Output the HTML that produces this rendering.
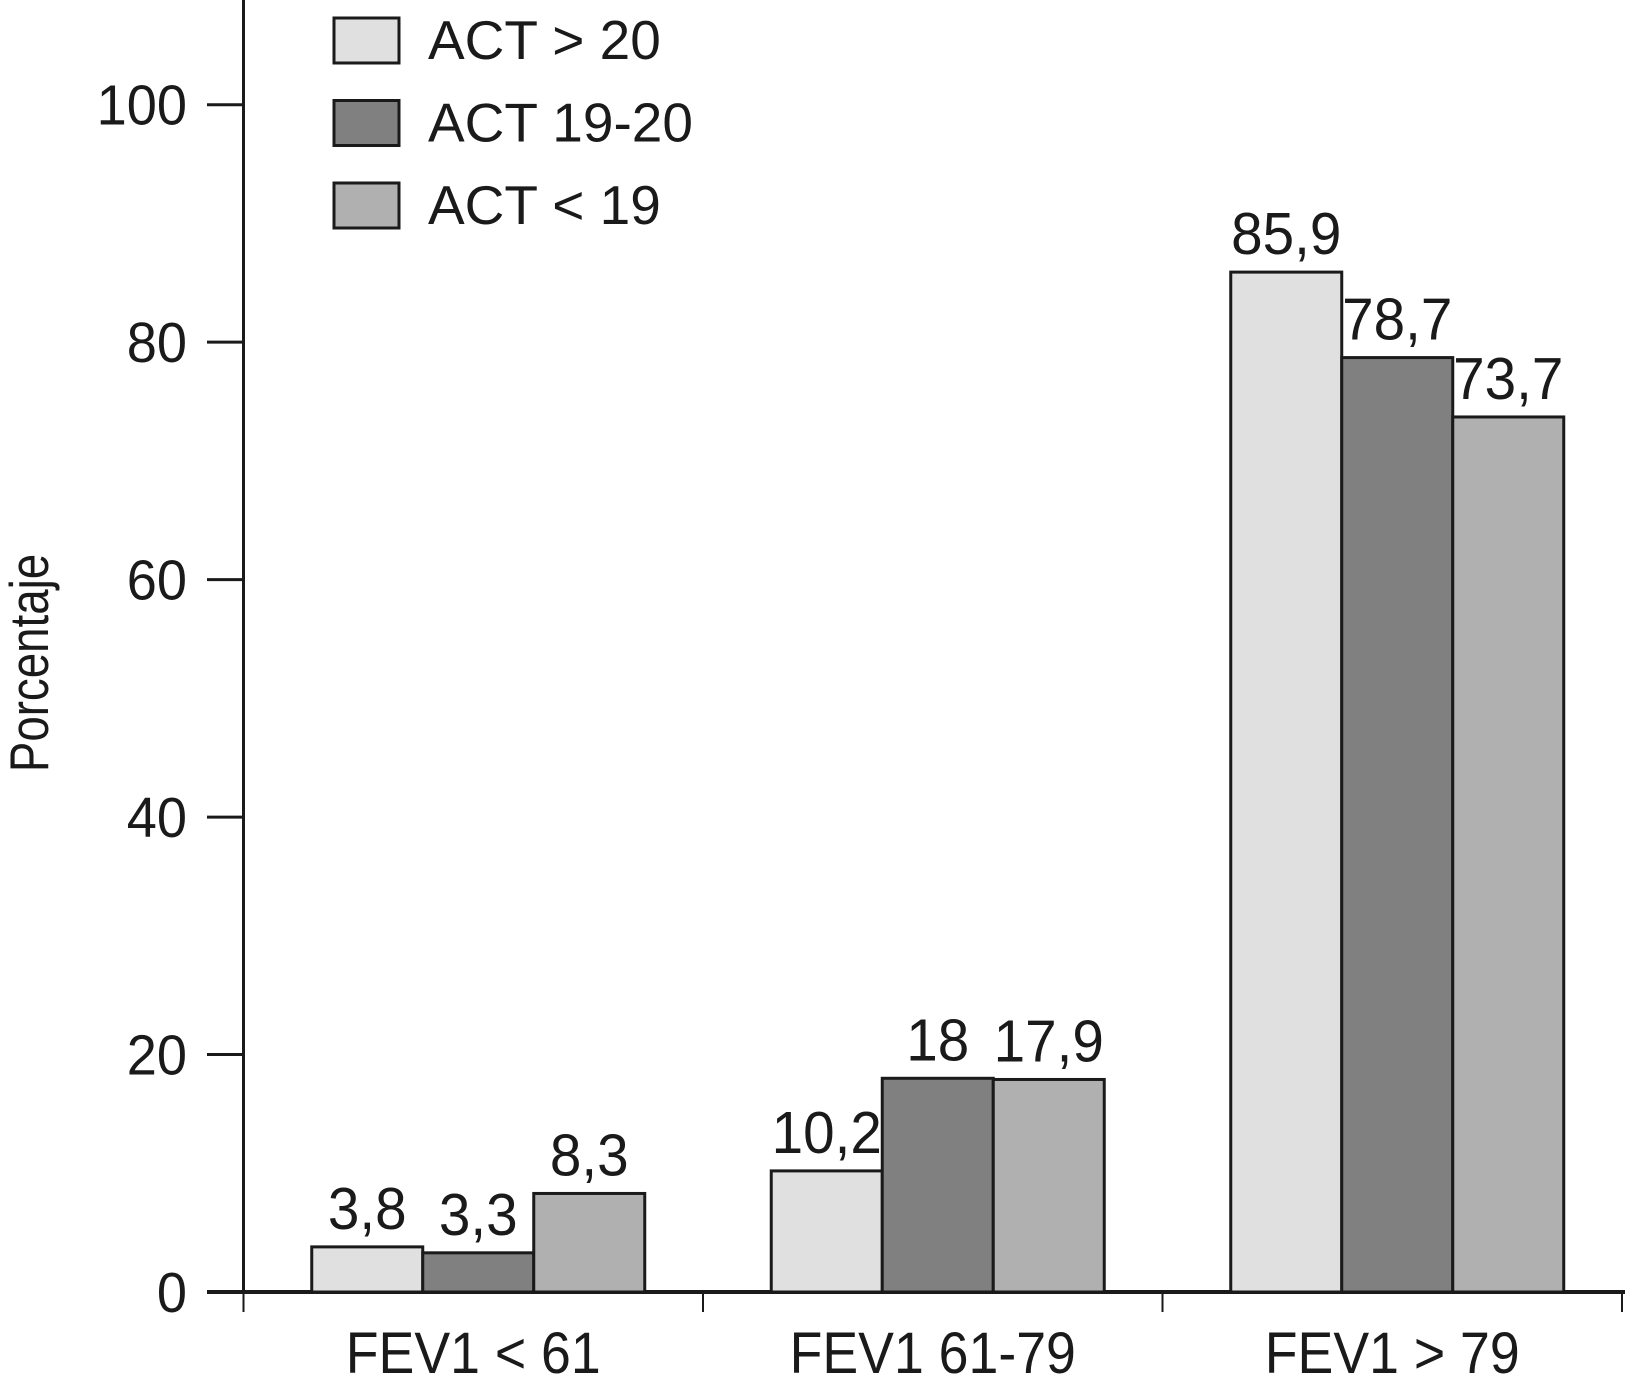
<!DOCTYPE html>
<html><head><meta charset="utf-8"><style>
html,body{margin:0;padding:0;background:#fff;}
svg{display:block;}
text{font-family:"Liberation Sans",Arial,sans-serif;fill:#1a1a1a;}
</style></head>
<body>
<svg id="chart" width="1625" height="1391" viewBox="0 0 1625 1391" xmlns="http://www.w3.org/2000/svg">
<g id="axes"></g><g id="bars"></g><g id="legend"></g>
</svg>
<script>
const categories = ["FEV1 < 61", "FEV1 61-79", "FEV1 > 79"];
const seriesNames = ["ACT > 20", "ACT 19-20", "ACT < 19"];
const seriesA = [3.8, 10.2, 85.9];
const seriesB = [3.3, 18, 78.7];
const seriesC = [8.3, 17.9, 73.7];
const valueLabelsA = ["3,8", "10,2", "85,9"];
const valueLabelsB = ["3,3", "18", "78,7"];
const valueLabelsC = ["8,3", "17,9", "73,7"];
const yTicks = [0, 20, 40, 60, 80, 100];

const NS = "http://www.w3.org/2000/svg";
const colors = ["#e0e0e0", "#808080", "#b0b0b0"];
const x0 = 243.5, x1 = 1625, y0 = 1292, yTop = 104.7;
const yScale = v => y0 - (v / 100) * (y0 - yTop);
const catW = 459.5;
const catCenter = i => x0 + catW * (i + 0.5);
const barW = 111;
const barShift = 5;
function mk(tag, attrs, parent, txt) {
  const e = document.createElementNS(NS, tag);
  for (const k in attrs) e.setAttribute(k, attrs[k]);
  if (txt !== undefined) e.textContent = txt;
  parent.appendChild(e);
  return e;
}
function txt(parent, x, y, s, size, sx, anchor) {
  return mk("text", {transform: "translate(" + x + "," + y + ") scale(" + sx + ",1)", "text-anchor": anchor, "font-size": size}, parent, s);
}
const axes = document.getElementById("axes");
const barsG = document.getElementById("bars");
const legend = document.getElementById("legend");

let yl = mk("line", {x1: x0, y1: 0, x2: x0, y2: y0, stroke: "#1a1a1a", "stroke-width": 3}, axes);


yTicks.forEach(t => {
  const y = yScale(t);
  const tk = mk("line", {x1: 207, y1: y, x2: x0, y2: y, stroke: "#1a1a1a", "stroke-width": 3}, axes);
  
  
  const lb = txt(axes, 187, y + 20, String(t), 57, 0.95, "end");
  
  
});
const yt = mk("text", {transform: "translate(48,663) rotate(-90) scale(0.83,1)", "text-anchor": "middle", "font-size": 55}, axes, "Porcentaje");



const series = [seriesA, seriesB, seriesC];
const labels = [valueLabelsA, valueLabelsB, valueLabelsC];
categories.forEach((c, i) => {
  series.forEach((s, j) => {
    const bx = catCenter(i) - 1.5 * barW + j * barW + barShift;
    const by = yScale(s[i]);
    const r = mk("rect", {x: bx, y: by, width: barW, height: y0 - by, fill: colors[j], stroke: "#1a1a1a", "stroke-width": 3}, barsG);
    
    
    const vl = txt(barsG, bx + barW / 2, by - 18, labels[j][i], 59, 0.96, "middle");
    
    
  });
  const cl = txt(axes, catCenter(i), 1373, c, 58, 0.925, "middle");
  
  
});
const xl = mk("line", {x1: 207, y1: y0, x2: x1, y2: y0, stroke: "#1a1a1a", "stroke-width": 4}, axes);


[0, 1, 2, 3].forEach(k => {
  const x = Math.min(x0 + catW * k, 1623);
  const tk = mk("line", {x1: x, y1: y0, x2: x, y2: y0 + 20, stroke: "#1a1a1a", "stroke-width": 2}, axes);
  
  
});
seriesNames.forEach((n, j) => {
  const y = 18 + j * 82.5;
  const b = mk("rect", {x: 334, y: y, width: 65, height: 45, fill: colors[j], stroke: "#1a1a1a", "stroke-width": 3}, legend);
  
  
  const t = txt(legend, 428, y + 41, n, 55, 1, "start");
  
  
});
</script>
</body></html>
